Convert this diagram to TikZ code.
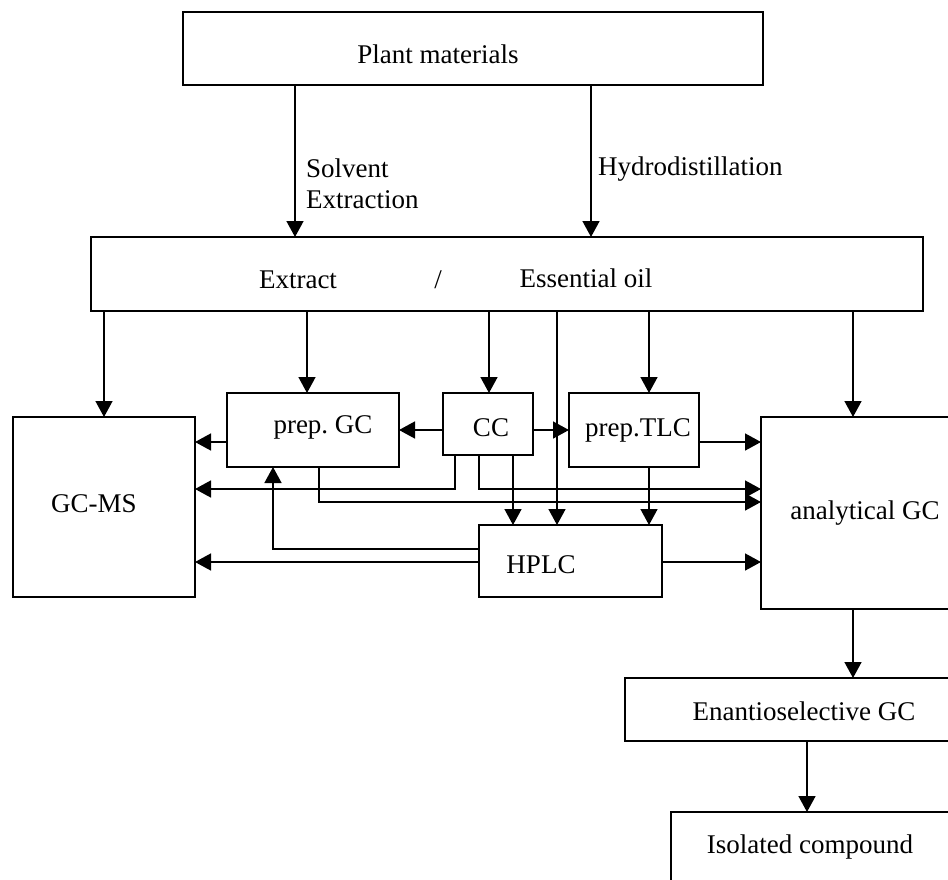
\documentclass[tikz,border=0pt]{standalone}
\usepackage{fontspec}
\setmainfont{Liberation Serif}
\usetikzlibrary{arrows.meta}
\tikzset{box/.style = {draw, line width=1.8pt, inner sep=0, outer sep=0}}
\tikzset{edge/.style = {-{Triangle[length=16pt,width=17pt]}, line width=1.5pt}}
\tikzset{txt/.style = {anchor=base, inner sep=0, font=\fontsize{27}{32}\selectfont}}

\begin{document}
\begin{tikzpicture}[x=1pt,y=-1pt]
                \useasboundingbox (0,0) rectangle (948,879);
                \clip (0,0) rectangle (948,879);
                % boxes
                \node[box, minimum width=580, minimum height=73] (plant) at (473,48.5) {};
                \node[box, minimum width=832, minimum height=74] (extr) at (507,274) {};
                \node[box, minimum width=182, minimum height=180] (gcms) at (104,507) {};
                \node[box, minimum width=172, minimum height=74] (prepgc) at (313,430) {};
                \node[box, minimum width=90, minimum height=62] (cc) at (488,424) {};
                \node[box, minimum width=130, minimum height=74] (preptlc) at (634,430) {};
                \node[box, minimum width=183, minimum height=72] (hplc) at (570.5,561) {};
                \node[box, minimum width=209, minimum height=192] (angc) at (865.5,513) {};
                \node[box, minimum width=345, minimum height=63] (enantio) at (797.5,709.5) {};
                \node[box, minimum width=299, minimum height=88] (isol) at (820.5,856) {};
                % texts
                \node[txt] (tplant) at (438,63) {Plant materials};
                \node[txt, anchor=base west] (tsolv) at (306,177) {Solvent};
                \node[txt, anchor=base west] (textr) at (306,208) {Extraction};
                \node[txt, anchor=base west] (thydro) at (598,175) {Hydrodistillation};
                \node[txt] (textract) at (298,288) {Extract};
                \node[txt] (tslash) at (438,288) {/};
                \node[txt] (toil) at (586,287) {Essential oil};
                \node[txt] (tgcms) at (94,512) {GC-MS};
                \node[txt] (tprepgc) at (323,433) {prep.\ GC};
                \node[txt] (tcc) at (491,436) {CC};
                \node[txt] (tpreptlc) at (638,436) {prep.TLC};
                \node[txt] (thplc) at (541,573) {HPLC};
                \node[txt] (tangc) at (865,519) {analytical GC};
                \node[txt] (tenantio) at (804,720) {Enantioselective GC};
                \node[txt] (tisol) at (810,853) {Isolated compound};
                % columns and rows of the connectors
                \coordinate (xs) at (295,0);
                \coordinate (xh) at (591,0);
                \coordinate (xb) at (307,0);
                \coordinate (xc) at (489,0);
                \coordinate (xd) at (557,0);
                \coordinate (xe) at (649,0);
                \coordinate (xf) at (853,0);
                \coordinate (xg) at (455,0);
                \coordinate (xk) at (479,0);
                \coordinate (xn) at (513,0);
                \coordinate (xm) at (319,0);
                \coordinate (xp) at (273,0);
                \coordinate (xq) at (807,0);
                \coordinate (ya) at (0,442);
                \coordinate (yb) at (0,489);
                \coordinate (yc) at (0,502);
                \coordinate (yd) at (0,549);
                \coordinate (ye) at (0,562);
                % connectors
                \draw[edge] (plant.south -| xs) -- (extr.north -| xs);
                \draw[edge] (plant.south -| xh) -- (extr.north -| xh);
                \draw[edge] (extr.south -| gcms) -- (gcms.north);
                \draw[edge] (extr.south -| xb) -- (prepgc.north -| xb);
                \draw[edge] (extr.south -| xc) -- (cc.north -| xc);
                \draw[edge] (extr.south -| xd) -- (hplc.north -| xd);
                \draw[edge] (extr.south -| xe) -- (preptlc.north -| xe);
                \draw[edge] (extr.south -| xf) -- (angc.north -| xf);
                \draw[edge] (cc.west |- prepgc) -- (prepgc.east);
                \draw[edge] (cc.east |- preptlc) -- (preptlc.west);
                \draw[edge] (prepgc.west |- ya) -- (gcms.east |- ya);
                \draw[edge] (preptlc.east |- ya) -- (angc.west |- ya);
                \draw[edge] (cc.south -| xg) |- (gcms.east |- yb);
                \draw[edge] (cc.south -| xk) |- (angc.west |- yb);
                \draw[edge] (prepgc.south -| xm) |- (angc.west |- yc);
                \draw[edge] (cc.south -| xn) -- (hplc.north -| xn);
                \draw[edge] (preptlc.south -| xe) -- (hplc.north -| xe);
                \draw[edge] (hplc.west |- yd) -| (prepgc.south -| xp);
                \draw[edge] (hplc.west |- ye) -- (gcms.east |- ye);
                \draw[edge] (hplc.east |- ye) -- (angc.west |- ye);
                \draw[edge] (angc.south -| xf) -- (enantio.north -| xf);
                \draw[edge] (enantio.south -| xq) -- (isol.north -| xq);
\end{tikzpicture}
\end{document}
